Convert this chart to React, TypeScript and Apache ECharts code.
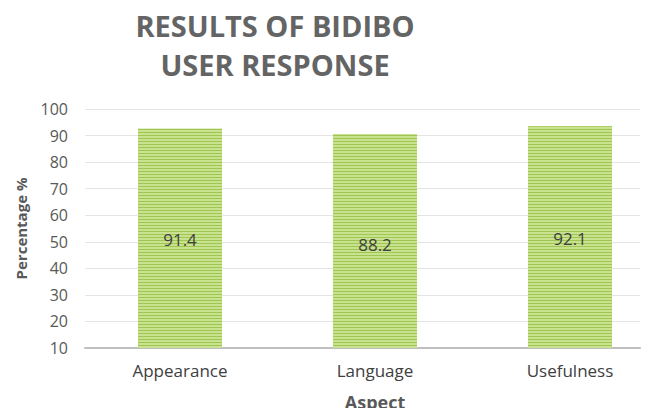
import React, { useEffect, useRef } from "react";
import * as echarts from "echarts";

const titleLines = ["RESULTS OF BIDIBO", "USER RESPONSE"];
const categories = ["Appearance", "Language", "Usefulness"];
const barHeights = [92.7, 90.6, 93.5];
const labelValues = [91.4, 88.2, 92.1];
const yMin = 10;
const yMax = 100;
const yInterval = 10;

export default function App() {
  const ref = useRef<HTMLDivElement>(null);
  useEffect(() => {
    const chart = echarts.init(ref.current!, null, { renderer: "svg" });
    const font = "'Open Sans', sans-serif";
    chart.setOption({
      animation: false,
      backgroundColor: "#ffffff",
      textStyle: { fontFamily: font },
      graphic: [
        {
          type: "text",
          x: 275,
          y: 6,
          style: {
            text: titleLines.join("\n"),
            font: `bold 29px ${font}`,
            fill: "#646464",
            textAlign: "center",
            textVerticalAlign: "top",
            lineHeight: 39,
          },
        },
      ],
      grid: [
        { left: 82.5, right: -14.5, top: 109, bottom: 68, outerBoundsMode: "none", containLabel: false },
        { left: 85, right: 13, top: 109, bottom: 68, outerBoundsMode: "none", containLabel: false },
      ],
      xAxis: [
        {
          type: "category",
          gridIndex: 0,
          data: categories,
          axisLine: { show: false },
          axisTick: { show: false },
          axisLabel: { fontSize: 17, color: "#404040", margin: 14, fontFamily: font },
          name: "Aspect",
          nameLocation: "middle",
          nameGap: 45,
          nameTextStyle: { fontSize: 18, fontWeight: "bold", color: "#595959", fontFamily: font },
        },
        {
          type: "value",
          gridIndex: 1,
          min: 0,
          max: 1,
          axisLine: { show: true, onZero: false, lineStyle: { color: "#bfbfbf", width: 2 } },
          axisTick: { show: false },
          axisLabel: { show: false },
          splitLine: { show: false },
        },
      ],
      yAxis: [
        {
          type: "value",
          gridIndex: 0,
          min: yMin,
          max: yMax,
          interval: yInterval,
          show: false,
        },
        {
          type: "value",
          gridIndex: 1,
          min: yMin,
          max: yMax,
          interval: yInterval,
          axisLine: { show: false },
          axisTick: { show: false },
          splitLine: { lineStyle: { color: "#e4e4e4", width: 1 } },
          axisLabel: { fontSize: 16, color: "#595959", margin: 17, fontFamily: font },
          name: "Percentage %",
          nameLocation: "middle",
          nameGap: 57,
          nameTextStyle: { fontSize: 15, fontWeight: "bold", color: "#595959", fontFamily: font },
        },
      ],
      series: [
        {
          type: "bar",
          xAxisIndex: 0,
          yAxisIndex: 0,
          data: barHeights,
          barWidth: 84,
          itemStyle: {
            color: "#c8e28f",
            decal: {
              symbol: "rect",
              symbolSize: 1,
              dashArrayX: [1, 0],
              dashArrayY: [1, 2],
              color: "#9fc650",
              rotation: 0,
            },
          },
        },
        {
          type: "bar",
          xAxisIndex: 0,
          yAxisIndex: 0,
          data: labelValues,
          barWidth: 84,
          barGap: "-100%",
          itemStyle: { color: "rgba(0,0,0,0)" },
          label: {
            show: true,
            position: "inside",
            fontSize: 17,
            color: "#404040",
            fontFamily: font,
            formatter: (p: any) => String(p.value),
          },
        },
      ],
    });
    return () => chart.dispose();
  }, []);
  return <div ref={ref} style={{ width: 653, height: 416, margin: -8 }} />;
}
